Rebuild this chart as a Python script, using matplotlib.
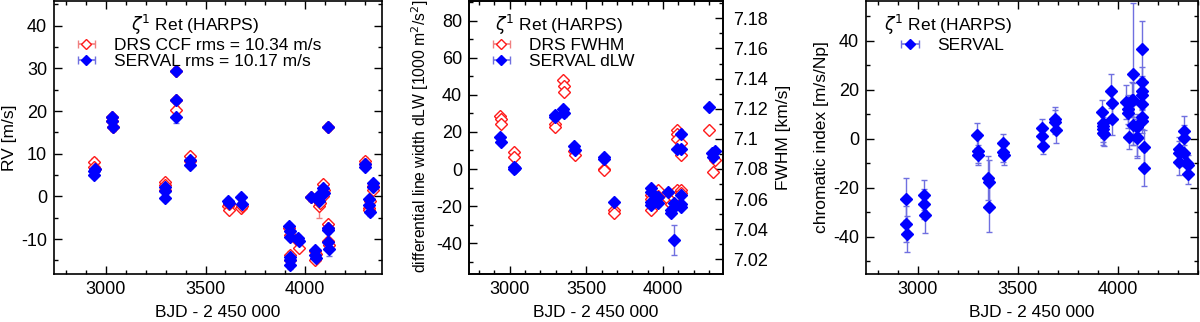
import numpy as np
import matplotlib
matplotlib.use("Agg")
import matplotlib.pyplot as plt
from matplotlib.ticker import MultipleLocator, FuncFormatter

# --- datos (BJD - 2 450 000) ---
t_rv_drs = [2940, 2942, 2944, 3030, 3032, 3034, 3295, 3297, 3299, 3353, 3353, 3353,
            3422, 3422, 3614, 3616, 3618, 3680, 3683, 3920, 3922, 3922, 3924,
            3965, 3967, 4030, 4048, 4050, 4052, 4070, 4072, 4088, 4090, 4092,
            4113, 4115, 4115, 4117, 4115, 4300, 4302, 4320, 4322, 4324, 4338, 4340]
rv_drs = [8.1, 7.0, 6.3, 18.6, 17.6, 16.2, 3.3, 2.7, 1.5, 29.5, 22.6, 20.3,
          9.4, 8.4, -2.2, -3.1, -1.8, -2.7, -2.2, -7.5, -9.0, -13.7, -15.0,
          -10.5, -12.1, -0.2, -12.9, -14.8, -13.5, -2.3, -1.5, 2.9, 0.0, 1.5,
          -6.5, -7.5, -10.5, -11.5, 16.2, 8.4, 7.5, -2.7, -3.3, -1.0, 1.6, 2.4]
rv_drs_err = [0.8] * len(rv_drs)
rv_drs_err[29] = 2.8

t_rv_srv = [2940, 2942, 2944, 3030, 3032, 3034, 3295, 3297, 3299, 3353, 3353, 3353,
            3422, 3422, 3614, 3618, 3680, 3683, 3920, 3922, 3922, 3922, 3924, 3924,
            3965, 3967, 4030, 4048, 4050, 4052, 4070, 4072, 4088, 4092,
            4113, 4115, 4115, 4117, 4115, 4300, 4302, 4320, 4322, 4324, 4338, 4340]
rv_srv = [5.9, 5.1, 6.3, 18.6, 17.6, 16.2, 2.3, 1.2, -0.4, 29.5, 22.6, 18.7,
          8.6, 7.4, -1.2, -1.5, -0.2, -1.7, -7.0, -8.2, -9.5, -14.2, -16.2, -15.0,
          -9.8, -10.5, -0.2, -12.6, -13.8, -14.5, -1.2, 0.6, 2.0, 0.8,
          -7.3, -7.8, -10.8, -12.3, 16.3, 7.6, 7.0, -0.6, -2.0, -3.7, 3.1, 2.3]
rv_srv_err = [0.8] * len(rv_srv)
rv_srv_err[11] = 1.5
rv_srv_err[31] = 2.2
rv_srv_err[37] = 1.6

t_fwhm = [2940, 2942, 2944, 3030, 3032, 3295, 3297, 3351, 3353, 3355, 3422, 3424,
          3614, 3616, 3680, 3683, 3920, 3922, 3924, 3965, 3967, 4035, 4055,
          4072, 4075, 4092, 4092, 4094, 4090, 4092, 4118, 4120, 4116, 4118,
          4300, 4325, 4342]
fwhm_drs = [7.115, 7.113, 7.110, 7.091, 7.088, 7.110, 7.108, 7.139, 7.135, 7.131,
            7.092, 7.089, 7.080, 7.079, 7.053, 7.051, 7.063, 7.060, 7.053,
            7.066, 7.062, 7.060, 7.057, 7.064, 7.061, 7.106, 7.103, 7.100,
            7.066, 7.063, 7.097, 7.089, 7.066, 7.064, 7.106, 7.078, 7.086]
fwhm_drs_err = [0.0012] * len(fwhm_drs)
fwhm_drs_err[23] = 0.0025

t_dlw = [2940, 2942, 3030, 3032, 3034, 3295, 3297, 3351, 3353, 3422, 3424,
         3614, 3616, 3683, 3920, 3922, 3922, 3924, 3965, 3967, 4035,
         4053, 4055, 4072, 4074, 4092, 4118, 4116, 4118, 4118, 4120,
         4300, 4322, 4325, 4342]
dlw_srv = [17.1, 14.7, 1.2, 0.0, 0.8, 29.1, 28.0, 32.2, 30.0, 12.6, 10.2,
           6.6, 5.2, -17.6, -10.4, -12.2, -17.6, -19.4, -15.3, -18.2, -12.6,
           -22.1, -23.9, -38.3, -18.2, 10.8, 18.7, 10.8, -14.0, -18.9, -20.3,
           33.6, 8.4, 6.6, 9.9]
dlw_srv_err = [1.5] * len(dlw_srv)
dlw_srv_err[23] = 7.9
dlw_srv_err[8] = 2.2

t_crx = [2940, 2942, 2944, 3030, 3032, 3034, 3298, 3300, 3302, 3353, 3355, 3357,
         3425, 3427, 3429, 3620, 3622, 3624, 3685, 3687, 3689,
         3922, 3924, 3925, 3926, 3927, 3929, 3968, 3970, 3972, 4040,
         4051, 4053, 4055, 4075, 4072, 4078, 4076, 4095, 4097, 4099,
         4120, 4121, 4121, 4122, 4121, 4121, 4120, 4130, 4132,
         4305, 4307, 4309, 4330, 4330, 4332, 4348, 4350, 4352]
crx = [-24.6, -34.8, -38.9, -23.0, -26.7, -31.3, 1.4, -4.9, -6.7, -16.2, -17.8, -27.8,
       -1.9, -5.3, -6.8, 4.2, 1.2, -2.9, 7.9, 6.9, 3.6,
       10.8, 6.5, 5.2, 3.8, 2.4, 1.9, 19.6, 14.4, 7.9, 14.9,
       12.0, 10.4, 0.8, 26.3, 16.0, 15.8, 5.6, 4.9, 0.8, 0.2,
       36.5, 23.3, 19.6, 17.8, 14.2, 9.0, 7.3, -3.4, -12.1,
       -4.2, -6.0, -9.6, 3.3, 0.4, -6.0, -9.8, -10.7, -14.4]
crx_err = [8.4, 7.5, 7.2, 6.0, 6.0, 7.0, 5.0, 5.0, 4.2, 9.0, 9.0, 10.2,
           4.0, 4.0, 4.0, 4.0, 4.0, 3.5, 5.0, 5.0, 5.5,
           5.0, 5.0, 5.0, 5.0, 5.0, 5.0, 7.0, 6.0, 6.5, 7.0,
           6.0, 6.0, 5.0, 29.0, 7.0, 7.0, 8.0, 5.0, 8.0, 8.0,
           11.6, 6.0, 6.0, 6.0, 5.0, 5.0, 5.0, 7.0, 7.0,
           5.0, 5.0, 5.0, 6.0, 5.0, 5.0, 4.0, 4.0, 4.0]

# --- estilo ---
plt.rcParams['font.family'] = ['Liberation Sans', 'DejaVu Sans']
plt.rcParams['font.size'] = 12
plt.rcParams['xtick.labelsize'] = 13
plt.rcParams['ytick.labelsize'] = 13
plt.rcParams['axes.labelsize'] = 12.5
plt.rcParams['axes.unicode_minus'] = False
plt.rcParams['axes.linewidth'] = 1.2

RED = '#ff1a1a'
RED_ERR = '#f08080'
BLUE = '#0000ff'
BLUE_ERR = '#7070e0'
MS = 6.0
TITLE = r'$\zeta^1$ Ret (HARPS)'
XLABEL = 'BJD - 2 450 000'


def style_axis(ax, ymajor, yminor, right=True):
    ax.xaxis.set_major_locator(MultipleLocator(500))
    ax.xaxis.set_minor_locator(MultipleLocator(100))
    ax.yaxis.set_major_locator(MultipleLocator(ymajor))
    ax.yaxis.set_minor_locator(MultipleLocator(yminor))
    ax.tick_params(which='both', direction='in', top=True, right=right, width=1.0)
    ax.tick_params(which='major', length=6, pad=5)
    ax.tick_params(which='minor', length=3)
    ax.set_xlabel(XLABEL, labelpad=5)


def legend_handle(ax, color, ecolor, filled, label):
    # entrada ficticia con barra horizontal, como en gnuplot
    return ax.errorbar([np.nan], [np.nan], xerr=[1], fmt='D', ms=5.5,
                       mfc=color if filled else 'white', mec=color, mew=1.0,
                       ecolor=ecolor, elinewidth=1.2, capsize=3, label=label)


def make_legend(ax, handles, anchor):
    leg = ax.legend(handles=handles, title=TITLE, loc='upper left',
                    bbox_to_anchor=anchor, frameon=False, fontsize=12.5,
                    title_fontsize=12.5, handlelength=2.0, handletextpad=0.6,
                    borderaxespad=0, labelspacing=0.05, borderpad=0.2)
    leg._legend_box.sep = 1
    return leg


fig = plt.figure(figsize=(12, 3.22), dpi=100)

# --- Panel 1: RV ---
ax1 = fig.add_axes([0.045, 0.149, 0.2733, 0.848])
ax1.errorbar(t_rv_drs, rv_drs, yerr=rv_drs_err, fmt='D', ms=MS, mfc='white',
             mec=RED, mew=1.0, ecolor=RED_ERR, elinewidth=1.0, capsize=2)
ax1.errorbar(t_rv_srv, rv_srv, yerr=rv_srv_err, fmt='D', ms=MS, mfc=BLUE,
             mec=BLUE, ecolor=BLUE_ERR, elinewidth=1.0, capsize=2)
h1 = legend_handle(ax1, RED, RED_ERR, False, 'DRS CCF rms = 10.34 m/s')
h2 = legend_handle(ax1, BLUE, BLUE_ERR, True, 'SERVAL rms = 10.17 m/s')
make_legend(ax1, [h1, h2], (0.035, 0.97))
ax1.set_xlim(2740, 4385)
ax1.set_ylim(-18.2, 45.8)
style_axis(ax1, 10, 5)
ax1.set_ylabel('RV [m/s]', labelpad=3)

# --- Panel 2: dLW / FWHM ---
ax2 = fig.add_axes([0.3908, 0.149, 0.2117, 0.848])
ax2r = ax2.twinx()
ax2r.errorbar(t_fwhm, fwhm_drs, yerr=fwhm_drs_err, fmt='D', ms=MS, mfc='white',
              mec=RED, mew=1.0, ecolor=RED_ERR, elinewidth=1.0, capsize=2)
ax2.errorbar(t_dlw, dlw_srv, yerr=dlw_srv_err, fmt='D', ms=MS, mfc=BLUE,
             mec=BLUE, ecolor=BLUE_ERR, elinewidth=1.0, capsize=2)
ax2.set_zorder(ax2r.get_zorder() + 1)
ax2.patch.set_visible(False)
h1 = legend_handle(ax2, RED, RED_ERR, False, 'DRS FWHM')
h2 = legend_handle(ax2, BLUE, BLUE_ERR, True, 'SERVAL dLW')
make_legend(ax2, [h1, h2], (0.045, 0.97))
ax2.set_xlim(2735, 4392)
ax2.set_ylim(-56.6, 90.6)
style_axis(ax2, 20, 10, right=False)
ax2.set_ylabel(r'differential line width dLW [1000 m$^2$/s$^2$]', labelpad=1,
               fontsize=11.3)
ax2.yaxis.set_label_coords(-0.15, 0.505)
ax2r.set_ylim(7.0103, 7.1915)
ax2r.yaxis.set_major_locator(MultipleLocator(0.02))
ax2r.yaxis.set_minor_locator(MultipleLocator(0.01))
ax2r.yaxis.set_major_formatter(FuncFormatter(lambda v, p: '%g' % round(v, 3)))
ax2r.tick_params(which='both', direction='in', width=1.0)
ax2r.tick_params(which='major', length=6, pad=7)
ax2r.tick_params(which='minor', length=3)
ax2r.set_ylabel('FWHM [km/s]', labelpad=6)

# --- Panel 3: indice cromatico ---
ax3 = fig.add_axes([0.7217, 0.149, 0.2763, 0.848])
ax3.errorbar(t_crx, crx, yerr=crx_err, fmt='D', ms=MS, mfc=BLUE, mec=BLUE,
             ecolor=BLUE_ERR, elinewidth=1.0, capsize=2)
h1 = legend_handle(ax3, BLUE, BLUE_ERR, True, 'SERVAL')
make_legend(ax3, [h1], (0.045, 0.97))
ax3.set_xlim(2740, 4400)
ax3.set_ylim(-55.2, 56.2)
style_axis(ax3, 20, 10)
ax3.set_ylabel('chromatic index [m/s/Np]', labelpad=3)

fig.savefig('out.png', dpi=100)
